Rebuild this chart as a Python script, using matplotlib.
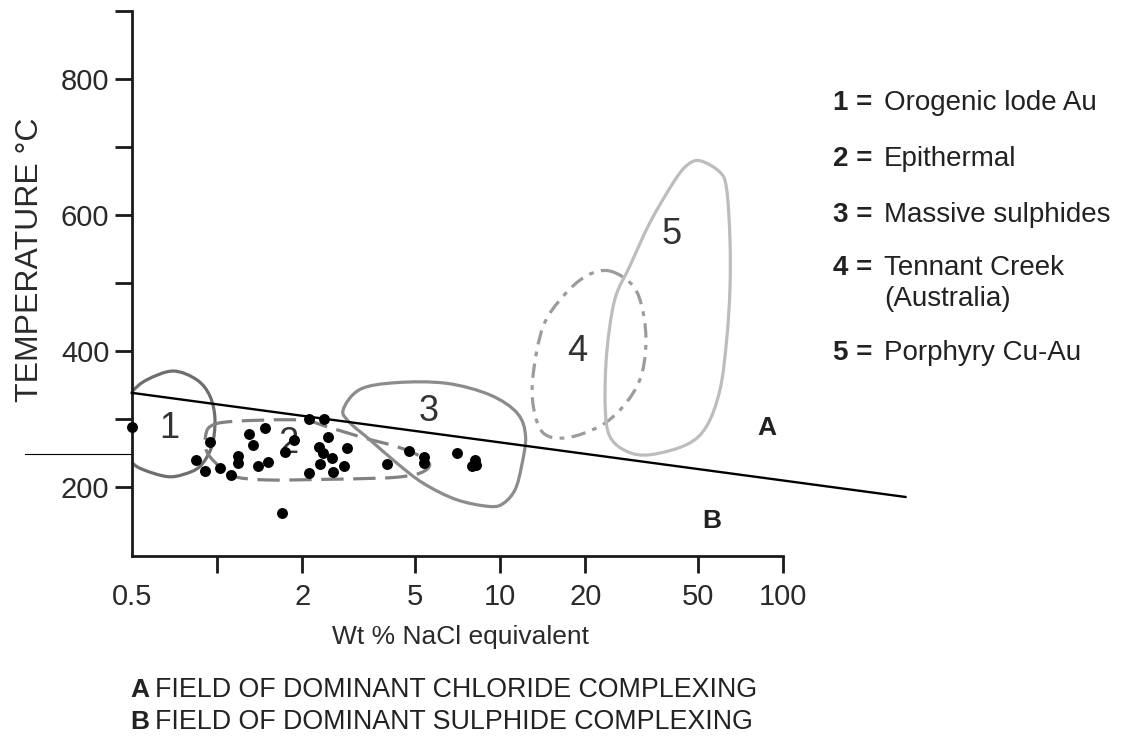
import numpy as np
import matplotlib
matplotlib.use("Agg")
import matplotlib.pyplot as plt
from matplotlib.path import Path
from matplotlib.patches import PathPatch
from matplotlib.lines import Line2D

plt.rcParams['font.family'] = ['Liberation Sans', 'DejaVu Sans']

# fluid inclusion measurements: salinity (wt % NaCl eq.) vs temperature (deg C)
salinity = [0.50, 0.945, 0.843, 0.907, 1.025, 1.118, 1.184, 1.184, 1.298, 1.344,
            1.40, 1.478, 1.511, 1.693, 1.739, 1.876, 2.119, 2.388, 2.114, 2.472,
            2.292, 2.374, 2.311, 2.554, 2.562, 2.816, 2.886, 3.976, 4.766, 5.397,
            5.397, 7.024, 8.15, 7.94, 8.20]
temperature = [289, 267, 240, 224, 229, 218, 246, 236, 279, 263,
               231, 287, 237, 163, 252, 270, 301, 301, 221, 274,
               259, 251, 235, 243, 222, 231, 258, 234, 254, 245,
               236, 250, 241, 232, 233]

# chloride / sulphide complexing boundary
boundary_x = [0.5, 270]
boundary_t = [339, 186]

# deposit-type fields (outline vertices)
field1_x = [0.5, 0.565, 0.70, 0.85, 0.945, 0.984, 0.958, 0.871, 0.76, 0.665, 0.55, 0.5, 0.455, 0.45, 0.455]
field1_t = [340, 358, 371, 358, 334, 300, 260, 231, 219, 216, 226, 237, 262, 288, 314]

field2_x = [0.95, 1.14, 1.96, 2.5, 3.29, 4.31, 5.21, 5.64, 5.21, 4.31, 3.29, 2.5, 1.5, 1.13, 0.99, 0.92, 0.91]
field2_t = [290, 297, 299, 288, 273, 260, 246, 233, 221, 215, 213, 212, 211, 217, 236, 253, 273]

field3_x = [2.79, 3.2, 4.31, 6.46, 9.2, 11.5, 12.3, 11.9, 11.3, 10.3, 9.2, 7.02, 5.36, 4.31, 3.47, 2.95]
field3_t = [314, 344, 354, 353, 336, 309, 275, 231, 197, 177, 172, 182, 206, 236, 270, 295]

field4_x = [24.4, 29.5, 32.0, 32.7, 31.2, 27.2, 22.5, 17.2, 14.2, 13.1, 13.1, 14.2, 16.7, 20.2]
field4_t = [518, 496, 457, 408, 359, 319, 290, 273, 280, 319, 368, 437, 481, 511]

field5_x = [50.8, 59.8, 63.1, 64.8, 64.8, 63.1, 59.8, 53.6, 45.6, 33.8, 28.0, 24.4,
            23.5, 23.8, 25.4, 28.7, 33.8, 40.9, 45.6]
field5_t = [680, 663, 638, 565, 491, 417, 344, 290, 263, 248, 253, 275,
            319, 398, 476, 525, 589, 648, 673]

field_labels = ['1', '2', '3', '4', '5']
label_x = [0.677, 1.786, 5.58, 18.7, 40.3]
label_t = [287, 265, 312, 399, 571]

legend_names = ['Orogenic lode Au', 'Epithermal', 'Massive sulphides',
                'Tennant Creek\n(Australia)', 'Porphyry Cu-Au']

x_ticks = [0.5, 1, 2, 5, 10, 20, 50, 100]
x_ticklabels = ['0.5', '', '2', '5', '10', '20', '50', '100']
y_ticks = [200, 300, 400, 500, 600, 700, 800, 900]
y_ticklabels = ['200', '', '400', '', '600', '', '800', '']


def closed_outline(xs, ts):
    """Smooth closed path through the vertices (Catmull-Rom in log-x space)."""
    P = np.column_stack([np.log10(xs), np.asarray(ts, float)])
    n = len(P)
    verts = [P[0]]
    codes = [Path.MOVETO]
    for i in range(n):
        p0, p1, p2, p3 = P[i - 1], P[i], P[(i + 1) % n], P[(i + 2) % n]
        verts += [p1 + (p2 - p0) / 6.0, p2 - (p3 - p1) / 6.0, p2]
        codes += [Path.CURVE4] * 3
    verts = np.array(verts)
    verts[:, 0] = 10 ** verts[:, 0]
    return Path(verts, codes)


W, H = 1129, 754
fig = plt.figure(figsize=(W / 100, H / 100), dpi=100)
ax = fig.add_axes([131.7 / W, 1 - 555.5 / H, (783.3 - 131.7) / W, (555.5 - 11) / H])
ax.set_xscale('log')
ax.set_xlim(0.5, 100)
ax.set_ylim(100, 900)

fields = [
    (field1_x, field1_t, '#6e6e6e', '-'),
    (field2_x, field2_t, '#828282', (0, (7, 3))),
    (field3_x, field3_t, '#8c8c8c', '-'),
    (field4_x, field4_t, '#9c9c9c', (0, (4.5, 2.3, 1.5, 2.3))),
    (field5_x, field5_t, '#bdbdbd', '-'),
]
for fx, ft, col, ls in fields:
    ax.add_patch(PathPatch(closed_outline(fx, ft), fill=False, edgecolor=col,
                           linewidth=2.3, linestyle=ls, capstyle='butt'))

ax.plot(boundary_x, boundary_t, color='black', lw=1.7, clip_on=False, zorder=3)

for lab, lx, lt in zip(field_labels, label_x, label_t):
    ax.text(lx, lt, lab, fontsize=26, color='#333333', ha='center', va='center', zorder=2)

ax.scatter(salinity, temperature, s=62, color='black', zorder=5, clip_on=False, linewidths=0)

ax.text(87.6, 288, 'A', fontsize=19, fontweight='bold', color='#222222', ha='center', va='center')
ax.text(56, 151, 'B', fontsize=19, fontweight='bold', color='#222222', ha='center', va='center')

for side in ['top', 'right']:
    ax.spines[side].set_visible(False)
for side in ['left', 'bottom']:
    ax.spines[side].set_linewidth(2.0)
    ax.spines[side].set_color('#1a1a1a')

ax.set_xticks(x_ticks)
ax.set_xticklabels(x_ticklabels)
ax.xaxis.set_minor_locator(matplotlib.ticker.NullLocator())
ax.set_yticks(y_ticks)
ax.set_yticklabels(y_ticklabels)
ax.tick_params(direction='out', length=12, width=2, color='#1a1a1a',
               labelsize=21, labelcolor='#2a2a2a')
ax.tick_params(axis='x', pad=8)
ax.tick_params(axis='y', pad=4)
ax.xaxis.get_major_ticks()[0].tick1line.set_visible(False)

fig.text(460 / W, 1 - 637 / H, 'Wt % NaCl equivalent', fontsize=19, color='#2a2a2a',
         ha='center', va='center')
fig.text(30 / W, 1 - 260 / H, 'TEMPERATURE \u00b0C', fontsize=23, color='#2a2a2a',
         ha='center', va='center', rotation=90)

# stray rule left of the y axis
fig.add_artist(Line2D([25 / W, 131 / W], [1 - 454 / H, 1 - 454 / H], color='black', lw=0.8))

# key to the numbered fields
rows_y = [103, 159, 215, 268, 353]
for i, (name, ry) in enumerate(zip(legend_names, rows_y)):
    fig.text(833 / W, 1 - ry / H, f'{i + 1} =', fontsize=20, fontweight='bold',
             color='#222222', ha='left', va='center')
    if '\n' in name:
        first, second = name.split('\n')
        fig.text(884 / W, 1 - ry / H, first, fontsize=20, color='#222222', ha='left', va='center')
        fig.text(884 / W, 1 - (ry + 31) / H, second, fontsize=20, color='#222222',
                 ha='left', va='center')
    else:
        fig.text(884 / W, 1 - ry / H, name, fontsize=20, color='#222222', ha='left', va='center')

# footnotes
fig.text(130 / W, 1 - 690 / H, 'A', fontsize=19, fontweight='bold', color='#222222', va='center')
fig.text(155 / W, 1 - 690 / H, 'FIELD OF DOMINANT CHLORIDE COMPLEXING', fontsize=19.3,
         color='#222222', va='center')
fig.text(130 / W, 1 - 722 / H, 'B', fontsize=19, fontweight='bold', color='#222222', va='center')
fig.text(155 / W, 1 - 722 / H, 'FIELD OF DOMINANT SULPHIDE COMPLEXING', fontsize=19.3,
         color='#222222', va='center')

fig.savefig('out.png', dpi=100)
